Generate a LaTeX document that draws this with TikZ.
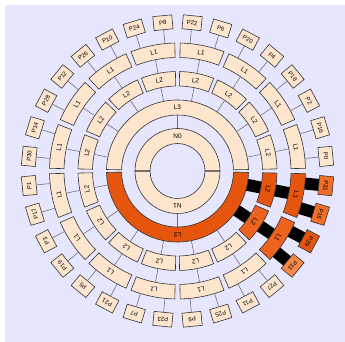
\documentclass[tikz,border=0pt]{standalone}
\usepackage{fontspec}
\setmainfont{Liberation Sans}

\definecolor{pagebg}{HTML}{E6E6FF}
\definecolor{cream}{HTML}{FEE6CE}
\definecolor{hotA}{HTML}{E6550D}
\definecolor{hotB}{HTML}{EC6320}
\definecolor{hotC}{HTML}{EF6E2A}
\definecolor{hotD}{HTML}{F4874A}
\definecolor{wiregray}{HTML}{70707E}

% annular piece: [style]{start}{end}{inner r}{outer r}
\newcommand{\ringpart}[5][]{%
  \draw[seg,#1] (#2:#4) arc[start angle=#2, end angle=#3, radius=#4]
    -- (#3:#5) arc[start angle=#3, end angle=#2, radius=#5] -- cycle;}

\begin{document}
\begin{tikzpicture}[
    seg/.style={draw=black!80, fill=cream, line width=0.6pt},
    tag/.style={font=\fontsize{6.5}{7}\selectfont, inner sep=0pt},
    pbox/.style={seg, minimum width=19pt, minimum height=14pt, inner sep=0pt,
      font=\fontsize{6}{7}\selectfont},
    wire/.style={draw=wiregray, line width=0.6pt},
    bus/.style={draw=black, line width=12pt}]

    % Frame
    \useasboundingbox (-177.5pt,-171pt) rectangle (167.5pt,171pt);
    \fill[pagebg] (-172.5pt,-171pt) rectangle (167.5pt,166pt);

    % Busy route (drawn below the boxes)
    \foreach \k in {14,15} {
        \pgfmathsetmacro{\a}{11.25+22.5*\k}
        \coordinate (l3o-\k) at (\a:71pt);
        \coordinate (l2i-\k) at (\a:85pt);
        \coordinate (l2o-\k) at (\a:99.5pt);
        \coordinate (l1i-\k) at (\a:113.5pt);
        \draw[bus] (l3o-\k) -- (l2i-\k);
        \draw[bus] (l2o-\k) -- (l1i-\k);
    }
    \foreach \m in {28,...,31} {
        \pgfmathsetmacro{\a}{5.625+11.25*\m}
        \coordinate (l1o-\m) at (\a:128pt);
        \coordinate (pi-\m) at (\a:142pt);
        \draw[bus] (l1o-\m) -- (pi-\m);
    }

    % Core ring
    \ringpart{0.6}{179.4}{27.5pt}{42.5pt}
    \ringpart{180.6}{359.4}{27.5pt}{42.5pt}
    \node[tag] (n0) at (90:35pt) {N0};
    \node[tag, rotate=180] (n1) at (270:35pt) {N1};

    % L3 ring
    \ringpart{1.2}{178.8}{56pt}{71pt}
    \ringpart[fill=hotA]{181.2}{358.8}{56pt}{71pt}
    \node[tag] (l3a) at (90:63.5pt) {L3};
    \node[tag, rotate=180] (l3b) at (270:63.5pt) {L3};
    \coordinate (n0o) at (90:42.5pt);
    \coordinate (l3ai) at (90:56pt);
    \coordinate (n1o) at (270:42.5pt);
    \coordinate (l3bi) at (270:56pt);
    \draw[wire] (n0o) -- (l3ai);
    \draw[wire] (n1o) -- (l3bi);

    % L2 and L1 rings
    \foreach \k in {0,...,13} {
        \pgfmathsetmacro{\a}{11.25+22.5*\k}
        \pgfmathsetmacro{\s}{\a-10.05}
        \pgfmathsetmacro{\e}{\a+10.05}
        \ringpart{\s}{\e}{85pt}{99.5pt}
        \ringpart{\s}{\e}{113.5pt}{128pt}
        \node[tag, rotate=\a-90] (l2-\k) at (\a:92.25pt) {L2};
        \node[tag, rotate=\a-90] (l1-\k) at (\a:120.75pt) {L1};
        \coordinate (l3o-\k) at (\a:71pt);
        \coordinate (l2i-\k) at (\a:85pt);
        \coordinate (l2o-\k) at (\a:99.5pt);
        \coordinate (l1i-\k) at (\a:113.5pt);
        \draw[wire] (l3o-\k) -- (l2i-\k);
        \draw[wire] (l2o-\k) -- (l1i-\k);
    }
    \foreach \k/\col in {14/hotB, 15/hotA} {
        \pgfmathsetmacro{\a}{11.25+22.5*\k}
        \pgfmathsetmacro{\s}{\a-10.05}
        \pgfmathsetmacro{\e}{\a+10.05}
        \ringpart[fill=\col]{\s}{\e}{85pt}{99.5pt}
        \ringpart[fill=\col]{\s}{\e}{113.5pt}{128pt}
        \node[tag, rotate=\a-90] (l2-\k) at (\a:92.25pt) {L2};
        \node[tag, rotate=\a-90] (l1-\k) at (\a:120.75pt) {L1};
    }

    % Ports
    \foreach \lbl [count=\m from 0] in {0,16,2,18,4,20,6,22,8,24,10,26,12,28,14,30,
                                        1,17,3,19,5,21,7,23,9,25,11,27} {
        \pgfmathsetmacro{\a}{5.625+11.25*\m}
        \coordinate (l1p-\lbl) at (\a:128pt);
        \node[pbox, rotate=\a-90] (p\lbl) at (\a:149pt) {P\lbl};
        \draw[wire] (l1p-\lbl) -- (p\lbl.south);
    }
    \foreach \lbl/\m/\col in {13/28/hotD, 29/29/hotA, 15/30/hotC, 31/31/hotC} {
        \pgfmathsetmacro{\a}{5.625+11.25*\m}
        \node[pbox, fill=\col, rotate=\a-90] (p\lbl) at (\a:149pt) {P\lbl};
    }

\end{tikzpicture}
\end{document}
